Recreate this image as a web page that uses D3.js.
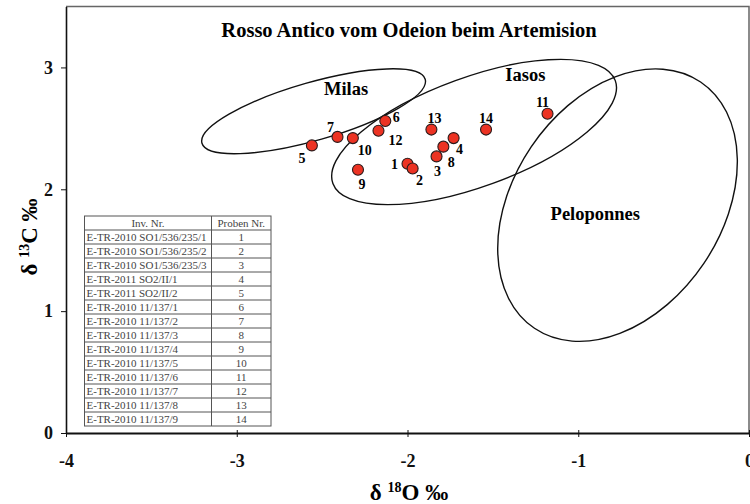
<!DOCTYPE html>
<html>
<head>
<meta charset="utf-8">
<script src="https://cdn.jsdelivr.net/npm/d3@7"></script>
<style>
  body { margin: 0; background: #fff; }
  svg { display: block; }
  text { font-family: "Liberation Serif", "Times New Roman", serif; }
</style>
</head>
<body>
<div class="chart"></div>
<script>
// sample values (delta 18O, delta 13C)
var probe = [1, 2, 3, 4, 5, 6, 7, 8, 9, 10, 11, 12, 13, 14];
var d18O = [-2.00, -1.97, -1.83, -1.73, -2.56, -2.13, -2.41, -1.79, -2.29, -2.32, -1.18, -2.17, -1.86, -1.54];
var d13C = [2.21, 2.17, 2.27, 2.42, 2.36, 2.56, 2.43, 2.35, 2.16, 2.42, 2.62, 2.48, 2.49, 2.49];

// provenance fields (centre in data units, half axes in units of the x axis, tilt in degrees)
var regionNames = ["Milas", "Iasos", "Peloponnes"];
var regionCx = [-2.55, -1.61, -0.77];
var regionCy = [2.64, 2.47, 1.87];
var regionA = [0.68, 0.88, 0.87];
var regionB = [0.17, 0.32, 0.61];
var regionTilt = [-16, -20, -56];
var regionLabelX = [-2.36, -1.31, -0.90];
var regionLabelY = [2.77, 2.89, 1.75];

// sample table
var invNr = ["E-TR-2010 SO1/536/235/1", "E-TR-2010 SO1/536/235/2", "E-TR-2010 SO1/536/235/3",
  "E-TR-2011 SO2/II/1", "E-TR-2011 SO2/II/2", "E-TR-2010 11/137/1", "E-TR-2010 11/137/2",
  "E-TR-2010 11/137/3", "E-TR-2010 11/137/4", "E-TR-2010 11/137/5", "E-TR-2010 11/137/6",
  "E-TR-2010 11/137/7", "E-TR-2010 11/137/8", "E-TR-2010 11/137/9"];
var xTicks = [-4, -3, -2, -1, 0];
var yTicks = [0, 1, 2, 3];

var width = 750;
var height = 504;

var svg = d3.select(".chart")
  .append("svg")
    .attr("width", width)
    .attr("height", height);

var x = d3.scaleLinear().domain([-4, 0]).range([66, 749]);
var y = d3.scaleLinear().domain([0, 3.5]).range([433, 6.5]);
var kx = x(1) - x(0);

// frame (top and right)
svg.append("path")
  .attr("d", "M66,6.5H749V433")
  .attr("fill", "none")
  .attr("stroke", "#666")
  .attr("stroke-width", 1.5);

// title
svg.append("text")
  .attr("x", 409)
  .attr("y", 37)
  .attr("text-anchor", "middle")
  .style("font-size", "20.5px")
  .style("font-weight", "bold")
  .text("Rosso Antico vom Odeion beim Artemision");

// ellipses
var regions = regionNames.map(function(n, i) {
  return {name: n, cx: regionCx[i], cy: regionCy[i], a: regionA[i], b: regionB[i],
    tilt: regionTilt[i], lx: regionLabelX[i], ly: regionLabelY[i]};
});

svg.append("g")
  .selectAll("ellipse")
  .data(regions)
  .enter()
  .append("ellipse")
    .attr("transform", function(d) { return "translate(" + x(d.cx) + "," + y(d.cy) + ") rotate(" + d.tilt + ")"; })
    .attr("rx", function(d) { return d.a * kx; })
    .attr("ry", function(d) { return d.b * kx; })
    .attr("fill", "none")
    .attr("stroke", "#111")
    .attr("stroke-width", 1.4);

svg.append("g")
  .selectAll("text")
  .data(regions)
  .enter()
  .append("text")
    .attr("x", function(d) { return x(d.lx); })
    .attr("y", function(d) { return y(d.ly); })
    .attr("text-anchor", "middle")
    .style("font-size", "18.5px")
    .style("font-weight", "bold")
    .text(function(d) { return d.name; });

// table
var rowH = 14;
var tx0 = 84.5, tx1 = 211.5, tx2 = 271, ty0 = 216;
var table = svg.append("g").attr("class", "table");
var rows = [["Inv. Nr.", "Proben Nr."]].concat(invNr.map(function(s, i) { return [s, String(probe[i])]; }));

table.append("rect")
  .attr("x", tx0).attr("y", ty0)
  .attr("width", tx2 - tx0).attr("height", rows.length * rowH)
  .attr("fill", "#fff")
  .attr("stroke", "#555")
  .attr("stroke-width", 1);

table.selectAll("line.row")
  .data(d3.range(1, rows.length))
  .enter()
  .append("line")
    .attr("class", "row")
    .attr("x1", tx0).attr("x2", tx2)
    .attr("y1", function(d) { return ty0 + d * rowH; })
    .attr("y2", function(d) { return ty0 + d * rowH; })
    .attr("stroke", "#555")
    .attr("stroke-width", 1);

table.append("line")
  .attr("x1", tx1).attr("x2", tx1)
  .attr("y1", ty0).attr("y2", ty0 + rows.length * rowH)
  .attr("stroke", "#555")
  .attr("stroke-width", 1);

table.selectAll("text.c1")
  .data(rows)
  .enter()
  .append("text")
    .attr("class", "c1")
    .attr("x", function(d, i) { return i == 0 ? (tx0 + tx1) / 2 : tx0 + 2; })
    .attr("y", function(d, i) { return ty0 + i * rowH + 10.5; })
    .attr("text-anchor", function(d, i) { return i == 0 ? "middle" : "start"; })
    .style("font-size", "11px")
    .style("fill", "#444")
    .text(function(d) { return d[0]; });

table.selectAll("text.c2")
  .data(rows)
  .enter()
  .append("text")
    .attr("class", "c2")
    .attr("x", (tx1 + tx2) / 2)
    .attr("y", function(d, i) { return ty0 + i * rowH + 10.5; })
    .attr("text-anchor", "middle")
    .style("font-size", "11px")
    .style("fill", "#444")
    .text(function(d) { return d[1]; });

// axes (plain hyphen for the minus, as in the original)
var fmt = function(d) { return String(d); };

var xAxis = svg.append("g")
  .attr("transform", "translate(0,433)")
  .call(d3.axisBottom(x).tickValues(xTicks).tickFormat(fmt).tickSize(4).tickSizeOuter(0).tickPadding(17));
xAxis.select(".domain").attr("stroke", "#111").attr("stroke-width", 2.2);
xAxis.selectAll(".tick line").attr("y1", -3).attr("stroke", "#111");
xAxis.selectAll(".tick text")
  .style("font-family", "Liberation Serif, serif")
  .style("font-size", "18px")
  .style("font-weight", "bold")
  .attr("fill", "#111");

var yAxis = svg.append("g")
  .attr("transform", "translate(66,0)")
  .call(d3.axisLeft(y).tickValues(yTicks).tickFormat(fmt).tickSize(5).tickSizeOuter(0).tickPadding(8));
yAxis.select(".domain").attr("stroke", "#111").attr("stroke-width", 1.6);
yAxis.selectAll(".tick line").attr("stroke", "#111");
yAxis.selectAll(".tick text")
  .style("font-family", "Liberation Serif, serif")
  .style("font-size", "18px")
  .style("font-weight", "bold")
  .attr("fill", "#111");

// axis titles
var xt = svg.append("text")
  .attr("x", 409)
  .attr("y", 500)
  .attr("text-anchor", "middle")
  .style("font-size", "23px")
  .style("font-weight", "bold");
xt.append("tspan").text("δ ");
xt.append("tspan").attr("dy", -8).style("font-size", "14px").text("18");
xt.append("tspan").attr("dy", 8).text("O ‰");

var yt = svg.append("text")
  .attr("transform", "translate(37,237) rotate(-90)")
  .attr("text-anchor", "middle")
  .style("font-size", "23px")
  .style("font-weight", "bold");
yt.append("tspan").text("δ ");
yt.append("tspan").attr("dy", -8).style("font-size", "14px").text("13");
yt.append("tspan").attr("dy", 8).text("C ‰");

// points
var points = probe.map(function(p, i) { return {id: p, x: d18O[i], y: d13C[i]}; });
// label offsets around each point, in px
var labelOff = {1: [-13, 5], 2: [7, 16], 3: [1, 20], 4: [6, 16], 5: [-10, 18], 6: [11, 1], 7: [-7, -5],
  8: [8, 20], 9: [4, 19], 10: [12, 17], 11: [-5, -7], 12: [17, 14], 13: [3, -7], 14: [0, -7]};

svg.append("g")
  .selectAll("circle")
  .data(points)
  .enter()
  .append("circle")
    .attr("cx", function(d) { return x(d.x); })
    .attr("cy", function(d) { return y(d.y); })
    .attr("r", 5.5)
    .style("fill", "#ec3323")
    .style("stroke", "#2a1a1a")
    .style("stroke-width", 1.1);

svg.append("g")
  .selectAll("text")
  .data(points)
  .enter()
  .append("text")
    .attr("x", function(d) { return x(d.x) + labelOff[d.id][0]; })
    .attr("y", function(d) { return y(d.y) + labelOff[d.id][1]; })
    .attr("text-anchor", "middle")
    .style("font-size", "14px")
    .style("font-weight", "bold")
    .text(function(d) { return d.id; });
</script>
</body>
</html>
